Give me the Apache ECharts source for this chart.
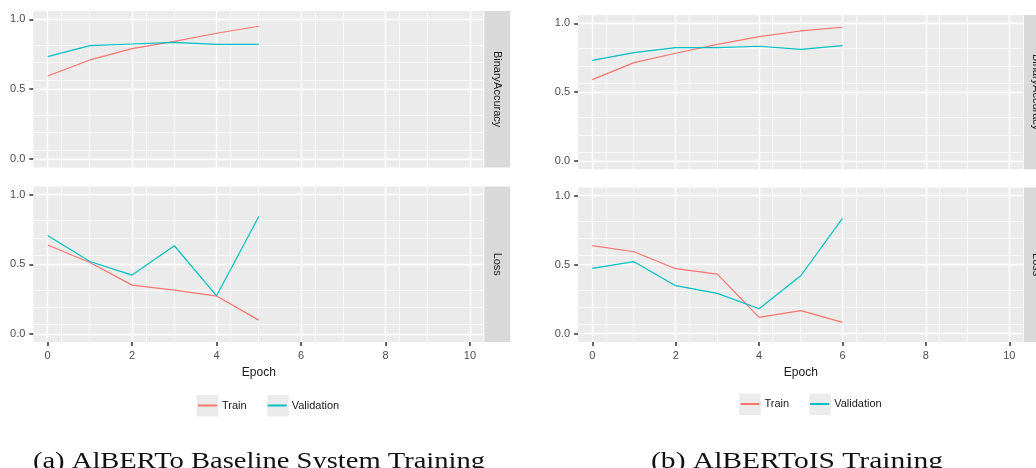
<!DOCTYPE html>
<html>
<head>
<meta charset="utf-8">
<title>AlBERTo training curves</title>
<script src="https://cdn.jsdelivr.net/npm/echarts@6/dist/echarts.min.js"></script>
<style>
  html, body { margin: 0; padding: 0; background: #fff; }
  #chart { width: 1036px; height: 468px; }
</style>
</head>
<body>
<div id="chart"></div>
<script>
// values
var epochsA = [0, 1, 2, 3, 4, 5];
var accTrainA = [0.594, 0.709, 0.790, 0.842, 0.900, 0.950];
var accValA = [0.733, 0.811, 0.823, 0.835, 0.821, 0.821];
var lossTrainA = [0.638, 0.513, 0.350, 0.314, 0.271, 0.098];
var lossValA = [0.707, 0.520, 0.422, 0.633, 0.273, 0.844];

var epochsB = [0, 1, 2, 3, 4, 5, 6];
var accTrainB = [0.591, 0.714, 0.782, 0.847, 0.903, 0.944, 0.971];
var accValB = [0.731, 0.787, 0.823, 0.823, 0.833, 0.811, 0.838];
var lossTrainB = [0.638, 0.594, 0.471, 0.432, 0.118, 0.167, 0.082];
var lossValB = [0.473, 0.522, 0.348, 0.292, 0.181, 0.420, 0.836];

var xTicks = [0, 2, 4, 6, 8, 10];
var yTicks = [0, 0.5, 1];
var facets = ['BinaryAccuracy', 'Loss'];
var seriesNames = ['Train', 'Validation'];
var captions = ['(a) AlBERTo Baseline System Training', '(b) AlBERToIS Training'];

var colors = ['#F8766D', '#00BFC4'];
var sansFont = '"Liberation Sans", Arial, sans-serif';
var serifFont = '24px "Liberation Serif", "DejaVu Serif", serif';

// panel boxes: left, top, width, height
var panels = [
    {left: 33.3, top: 10.9, width: 451, height: 156.5},
    {left: 33.3, top: 186.4, width: 451, height: 155.7},
    {left: 578.1, top: 15, width: 445.4, height: 154.2},
    {left: 578.1, top: 187.4, width: 445.4, height: 154.6}
];

function zip(xs, ys) {
    return xs.map(function(x, i) { return [x, ys[i]]; });
}

var grids = [], xAxes = [], yAxes = [], series = [], graphics = [];

panels.forEach(function(p, i) {
    var isBottom = i % 2 === 1;
    grids.push({
        left: p.left, top: p.top, width: p.width, height: p.height,
        show: true, backgroundColor: '#EBEBEB', borderWidth: 0
    });
    xAxes.push({
        type: 'value', gridIndex: i, min: -0.34, max: 10.34, interval: 2,
        position: 'bottom',
        axisLine: {show: false, onZero: false},
        axisTick: {show: isBottom, length: 4, customValues: xTicks,
            lineStyle: {color: '#333', width: 1.5}},
        axisLabel: {show: isBottom, customValues: xTicks, color: '#4D4D4D',
            fontSize: 11, fontFamily: sansFont, margin: 8},
        splitLine: {show: true, lineStyle: {color: '#fff', width: 1.4}},
        minorTick: {show: false, splitNumber: 3},
        minorSplitLine: {show: true, lineStyle: {color: '#fff', width: 0.7}},
        name: isBottom ? 'Epoch' : '',
        nameLocation: 'middle', nameGap: 25,
        nameTextStyle: {color: '#1A1A1A', fontSize: 12, fontFamily: sansFont}
    });
    yAxes.push({
        type: 'value', gridIndex: i, min: -0.06, max: 1.06, interval: 0.5,
        position: 'left',
        axisLine: {show: false, onZero: false},
        axisTick: {show: true, length: 4, customValues: yTicks,
            lineStyle: {color: '#333', width: 1.5}},
        axisLabel: {customValues: yTicks, color: '#4D4D4D', fontSize: 11,
            fontFamily: sansFont, margin: 8,
            formatter: function(v) { return v.toFixed(1); }},
        splitLine: {show: true, lineStyle: {color: '#fff', width: 1.4}},
        minorTick: {show: false, splitNumber: 4},
        minorSplitLine: {show: true, lineStyle: {color: '#fff', width: 0.7}}
    });

    // facet strip on the right of each panel
    var sx = p.left + p.width;
    graphics.push({
        type: 'rect', silent: true,
        shape: {x: sx, y: p.top, width: 26, height: p.height},
        style: {fill: '#D9D9D9'}
    });
    graphics.push({
        type: 'text', silent: true,
        x: sx + 13, y: p.top + p.height / 2, rotation: -Math.PI / 2,
        style: {text: facets[i % 2], fill: '#1A1A1A', font: '11px ' + sansFont,
            align: 'center', verticalAlign: 'middle'}
    });
});

var panelData = [
    [accTrainA, accValA, epochsA],
    [lossTrainA, lossValA, epochsA],
    [accTrainB, accValB, epochsB],
    [lossTrainB, lossValB, epochsB]
];
panelData.forEach(function(d, i) {
    [0, 1].forEach(function(k) {
        series.push({
            name: seriesNames[k], type: 'line',
            xAxisIndex: i, yAxisIndex: i,
            data: zip(d[2], d[k]),
            showSymbol: false, symbol: 'none',
            lineStyle: {color: colors[k], width: 1.2},
            itemStyle: {color: colors[k]},
            z: 3
        });
    });
});

// legend key backgrounds
[[196.7, 267.2], [739.3, 809.3]].forEach(function(xs, j) {
    var y = j === 0 ? 395 : 393.5;
    xs.forEach(function(x) {
        graphics.push({
            type: 'rect', silent: true, z: -1,
            shape: {x: x, y: y, width: 21.5, height: 21.5},
            style: {fill: '#EBEBEB'}
        });
    });
});

// captions below the two sub-figures (stretched to the width of the original serif face)
[[259, captions[0], 1.19], [797, captions[1], 1.23]].forEach(function(c) {
    graphics.push({
        type: 'text', silent: true, x: c[0], y: 461.5, scaleX: c[2],
        style: {text: c[1], fill: '#111', font: serifFont,
            align: 'center', verticalAlign: 'middle'}
    });
});

var legendBase = {
    data: seriesNames, icon: 'rect', itemWidth: 19, itemHeight: 2, itemGap: 21,
    padding: 0, selectedMode: false,
    textStyle: {color: '#1A1A1A', fontSize: 11, fontFamily: sansFont}
};

var chart = echarts.init(document.getElementById('chart'), null, {renderer: 'canvas'});
chart.setOption({
    animation: false,
    backgroundColor: '#fff',
    grid: grids,
    xAxis: xAxes,
    yAxis: yAxes,
    series: series,
    legend: [
        Object.assign({left: 198, top: 400}, legendBase),
        Object.assign({left: 740.5, top: 398.5}, legendBase)
    ],
    graphic: graphics
});

window.addEventListener('resize', function() {
    chart.resize();
});
</script>
</body>
</html>
